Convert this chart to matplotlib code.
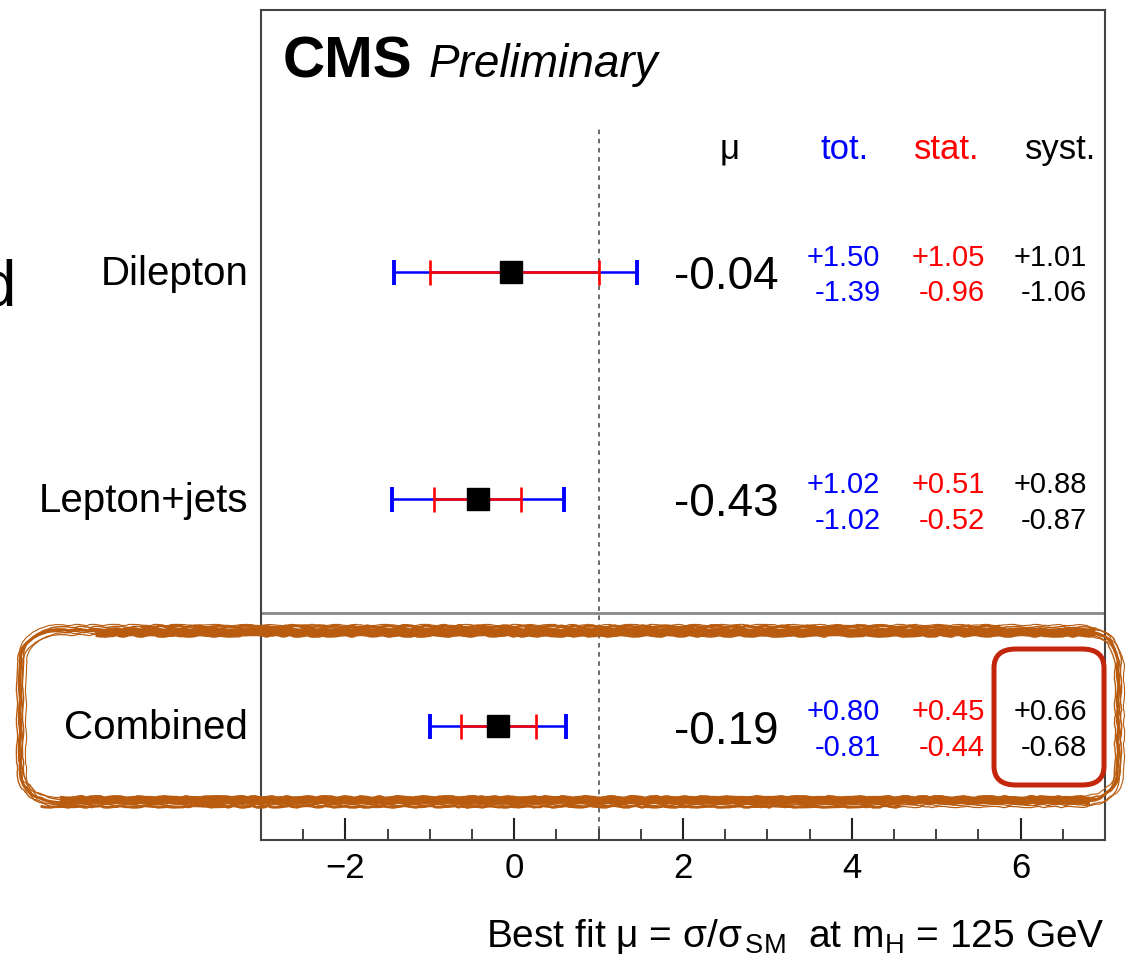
import numpy as np
import matplotlib
matplotlib.use('Agg')
import matplotlib.pyplot as plt
from matplotlib.patches import FancyBboxPatch
from matplotlib.ticker import MultipleLocator

plt.rcParams['font.family'] = ['Liberation Sans', 'DejaVu Sans']
plt.rcParams['mathtext.fontset'] = 'custom'
plt.rcParams['mathtext.rm'] = 'Liberation Sans'
plt.rcParams['mathtext.it'] = 'Liberation Sans'

# channels, bottom to top
channels = ['Combined', 'Lepton+jets', 'Dilepton']
mu = [-0.19, -0.43, -0.04]
tot_up = [0.80, 1.02, 1.50]
tot_dn = [0.81, 1.02, 1.39]
stat_up = [0.45, 0.51, 1.05]
stat_dn = [0.44, 0.52, 0.96]
syst_up = [0.66, 0.88, 1.01]
syst_dn = [0.68, 0.87, 1.06]

W, H = 1132, 972
fig = plt.figure(figsize=(W/100, H/100), dpi=100)
ax = fig.add_axes([261/W, 1-840/H, 844/W, 830/H])

rows = np.arange(len(channels)) + 0.5
ax.set_xlim(-3, 7)
ax.set_ylim(0, 3.656)

# error bars: total (blue) under stat (red), then best fit marker
ax.errorbar(mu, rows, xerr=[tot_dn, tot_up], fmt='none', ecolor='blue',
            elinewidth=1.8, capsize=9, capthick=2.8, zorder=3)
ax.errorbar(mu, rows, xerr=[stat_dn, stat_up], fmt='none', ecolor='red',
            elinewidth=1.8, capsize=9, capthick=1.9, zorder=4)
ax.plot(mu, rows, 's', color='black', ms=16.5, zorder=5)

# SM expectation and separator of the combination
ax.plot([1, 1], [0, 3.15], color='#444444', lw=1.1, ls=(0, (3, 3)))
ax.axhline(1.0, color='#888888', lw=2)

# column headers
hy = 3.0
ax.text(2.54, hy, r'$\mu$', ha='center', va='baseline', fontsize=25)
ax.text(3.92, hy, 'tot.', ha='center', va='baseline', fontsize=25, color='blue')
ax.text(5.13, hy, 'stat.', ha='center', va='baseline', fontsize=25, color='red')
ax.text(6.47, hy, 'syst.', ha='center', va='baseline', fontsize=25, color='black')

# per channel numbers
cols = [(4.34, tot_up, tot_dn, 'blue'),
        (5.58, stat_up, stat_dn, 'red'),
        (6.79, syst_up, syst_dn, 'black')]
for i, y in enumerate(rows):
    ax.text(-3.15, y - 0.057, channels[i], ha='right', va='baseline',
            fontsize=29, clip_on=False)
    ax.text(3.13, y - 0.075, f'{mu[i]:.2f}', ha='right', va='baseline', fontsize=33)
    for x, up, dn, c in cols:
        ax.text(x, y + 0.03, f'+{up[i]:.2f}', ha='right', va='baseline',
                fontsize=21, color=c)
        ax.text(x, y - 0.128, f'-{dn[i]:.2f}', ha='right', va='baseline',
                fontsize=21, color=c)

ax.text(0.026, 0.919, 'CMS', transform=ax.transAxes, fontsize=42,
        fontweight='bold', va='baseline')
ax.text(0.198, 0.919, 'Preliminary', transform=ax.transAxes, fontsize=33,
        fontstyle='italic', va='baseline')

# ROOT style axis
ax.set_yticks([])
ax.xaxis.set_major_locator(MultipleLocator(2))
ax.xaxis.set_minor_locator(MultipleLocator(0.5))
ax.tick_params(axis='x', which='major', direction='in', length=16, width=1.5,
               labelsize=25, pad=9, color='#222222')
ax.tick_params(axis='x', which='minor', direction='in', length=8, width=1.2,
               color='#222222')
for s in ax.spines.values():
    s.set_color('#444444')
    s.set_linewidth(1.5)

fig.text(1105/W, 1-947/H,
         r'Best fit $\mu$ = $\sigma/\sigma_{\,\rm SM}$  at m$_{\rm H}$ = 125 GeV',
         ha='right', va='baseline', fontsize=28)
fig.text(16/W, 1-305/H, 'd', ha='right', va='baseline', fontsize=46)

# hand drawn highlight around the combination
brown = '#b95c10'
def px_box(x0, y0, x1, y1, r, **kw):
    p = FancyBboxPatch((x0/W, 1-y1/H), (x1-x0)/W, (y1-y0)/H,
                       boxstyle=f'round,pad=0,rounding_size={r/W}',
                       transform=fig.transFigure, fill=False, **kw)
    fig.add_artist(p)
    return p

strands = [(0, 0, 2.2), (3, -3, 1.1), (-3, 2, 1.0), (6, 3, 0.8), (-1, -5, 0.8), (2, 5, 0.9)]
for dx, dy, lw in strands:
    p = px_box(20+dx, 630+dy, 1118+dx, 802+dy, 42, edgecolor=brown, lw=lw)
    p.set_sketch_params(scale=0.6, length=50, randomness=10)
# thick brush along top and bottom
for x0, x1, y, lw in [(95, 1095, 632, 6.5), (140, 1000, 626, 2.0),
                      (60, 1090, 800, 6.0), (40, 900, 806, 2.0)]:
    ln = plt.Line2D([x0/W, x1/W], [1-y/H, 1-y/H], color=brown,
                    lw=lw, transform=fig.transFigure, solid_capstyle='butt')
    ln.set_sketch_params(scale=0.8, length=60, randomness=15)
    fig.add_artist(ln)

px_box(994, 649, 1104, 785, 22, edgecolor='#c4260c', lw=3.6)

fig.savefig('out.png', dpi=100)
